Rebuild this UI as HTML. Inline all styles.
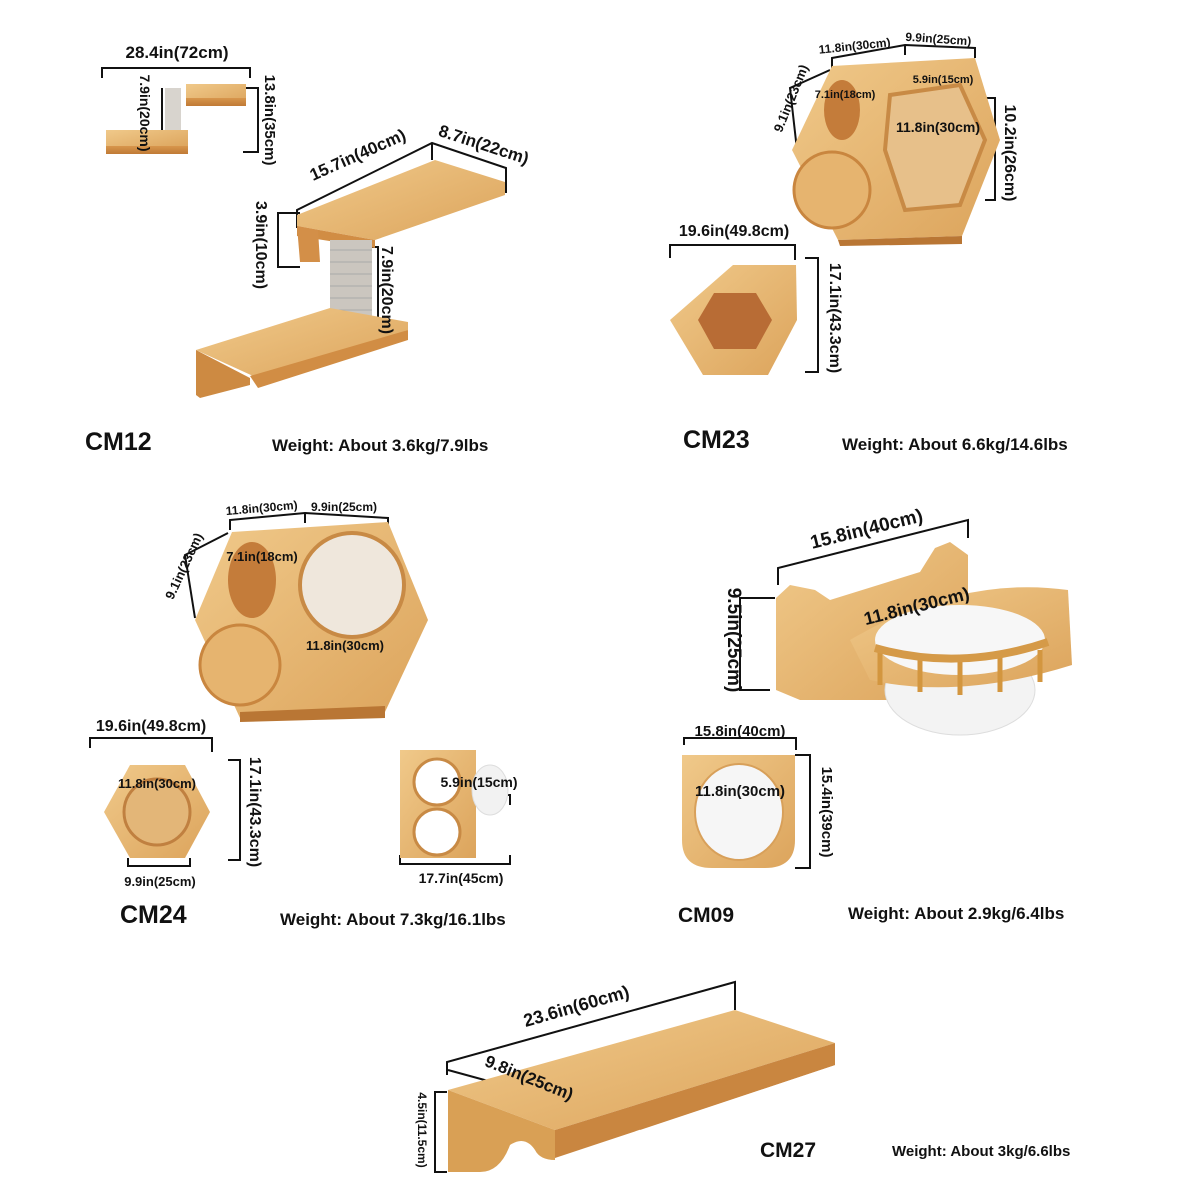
<!DOCTYPE html>
<html><head><meta charset="utf-8"><style>
html,body{margin:0;padding:0;background:#fff}
svg{display:block}
text{font-family:"Liberation Sans",Arial,sans-serif;font-weight:bold;fill:#111}
</style></head><body>
<svg width="1200" height="1200" viewBox="0 0 1200 1200" xmlns="http://www.w3.org/2000/svg">
<defs>
<linearGradient id="w" x1="0" y1="0" x2="1" y2="1"><stop offset="0" stop-color="#f0c98a"/><stop offset="1" stop-color="#dca45c"/></linearGradient>
<linearGradient id="wd" x1="0" y1="0" x2="0" y2="1"><stop offset="0" stop-color="#d7964c"/><stop offset="1" stop-color="#c07a36"/></linearGradient>
</defs>
<g stroke="#111" stroke-width="2" fill="none">
<path d="M102,78 V68 H250 V78"/>
<path d="M243,88 H258 V152 H243"/>
<path d="M162,88 V146"/>
<path d="M297,228 V210 L432,143 L506,168 V193"/>
<path d="M432,143 V160"/>
<path d="M300,213 H278 V267 H300"/>
<path d="M365,247 H378 V323 H340"/>
<path d="M832,68 V58 L905,45 L975,48 V58"/>
<path d="M905,45 V55"/>
<path d="M830,70 L790,88 L797,150"/>
<path d="M985,98 H995 V200 H985"/>
<path d="M893,135 H985 V150"/>
<path d="M670,258 V245 H795 V260"/>
<path d="M805,258 H818 V372 H805"/>
<path d="M230,530 V520 L305,513 L388,518 V528"/>
<path d="M305,513 V523"/>
<path d="M228,533 L185,555 L195,618"/>
<path d="M305,620 H398 V635"/>
<path d="M90,748 V738 H212 V752"/>
<path d="M228,760 H240 V860 H228"/>
<path d="M125,806 V798 H195 V806"/>
<path d="M128,858 V866 H190 V858"/>
<path d="M478,795 H510 V805"/>
<path d="M400,855 V864 H510 V855"/>
<path d="M778,585 V568 L968,520 V538"/>
<path d="M775,598 H740 V690 H770"/>
<path d="M855,640 L1020,600"/>
<path d="M684,745 V738 H796 V750"/>
<path d="M686,798 H795"/>
<path d="M795,755 H810 V868 H795"/>
<path d="M447,1075 V1062 L735,982 V1010"/>
<path d="M448,1070 L565,1102 V1115"/>
<path d="M447,1092 H435 V1172 H447"/>
</g>

<rect x="186" y="84" width="60" height="20" fill="url(#w)"/><rect x="186" y="98" width="60" height="8" fill="url(#wd)"/>
<rect x="165" y="88" width="16" height="42" fill="#d8d4ce"/>
<rect x="106" y="130" width="82" height="18" fill="url(#w)"/><rect x="106" y="146" width="82" height="8" fill="url(#wd)"/>

<polygon points="297,215 435,160 505,182 505,195 375,240 297,226" fill="url(#w)"/>
<polygon points="297,226 375,240 375,248 297,236" fill="#d18d44"/>
<polygon points="297,226 318,230 320,262 300,262" fill="#d38f48"/>
<rect x="330" y="240" width="42" height="80" fill="#cbc6bf"/>
<g stroke="#aaa" stroke-width="1">
<line x1="330" y1="250" x2="372" y2="250"/><line x1="330" y1="262" x2="372" y2="262"/><line x1="330" y1="274" x2="372" y2="274"/><line x1="330" y1="286" x2="372" y2="286"/><line x1="330" y1="298" x2="372" y2="298"/><line x1="330" y1="310" x2="372" y2="310"/></g>
<polygon points="196,350 330,308 408,322 408,330 262,380" fill="url(#w)"/>
<polygon points="250,376 408,330 408,340 258,388" fill="#d18d44"/>
<polygon points="196,350 250,378 250,385 200,398 196,395" fill="#cd8a42"/>

<polygon points="792,150 832,66 975,58 1000,140 962,236 838,240" fill="url(#w)"/>
<polygon points="838,240 962,236 962,244 840,246" fill="#b97634"/>
<ellipse cx="842" cy="110" rx="18" ry="30" fill="#c47c3a"/>
<polygon points="890,95 960,85 985,140 960,205 905,210 885,150" fill="#e7c08a" stroke="#c88a45" stroke-width="4"/>
<circle cx="832" cy="190" r="38" fill="#e6b46f" stroke="#c9863f" stroke-width="3"/>
<polygon points="733,265 796,265 797,320 768,375 703,375 670,320" fill="url(#w)"/>
<polygon points="698,320 714,293 756,293 772,320 756,349 714,349" fill="#b86c35"/>

<polygon points="195,620 232,532 388,522 428,620 385,712 240,718" fill="url(#w)"/>
<polygon points="240,712 385,706 385,718 240,722" fill="#b97634"/>
<ellipse cx="252" cy="580" rx="24" ry="38" fill="#c47c3a"/>
<circle cx="352" cy="585" r="52" fill="#efe7dc" stroke="#c88a45" stroke-width="4"/>
<circle cx="240" cy="665" r="40" fill="#e6b46f" stroke="#c9863f" stroke-width="3"/>
<polygon points="130,765 185,765 210,812 185,858 130,858 104,812" fill="url(#w)"/>
<circle cx="157" cy="812" r="33" fill="#e3b678" stroke="#c08040" stroke-width="3"/>
<rect x="400" y="750" width="76" height="108" fill="url(#w)"/>
<circle cx="437" cy="782" r="23" fill="#fff" stroke="#c88a45" stroke-width="3"/>
<circle cx="437" cy="832" r="23" fill="#fff" stroke="#c88a45" stroke-width="3"/>
<ellipse cx="490" cy="790" rx="18" ry="25" fill="#f2f2f2" stroke="#ddd"/>

<polygon points="776,598 790,585 815,590 830,600 920,572 935,548 950,542 968,555 968,700 800,700 776,690" fill="url(#w)"/>
<ellipse cx="960" cy="690" rx="75" ry="45" fill="#f3f3f3" stroke="#ddd"/>
<path d="M850,640 Q960,575 1068,590 L1072,665 Q960,700 870,680 Z" fill="url(#w)"/>
<ellipse cx="960" cy="640" rx="85" ry="35" fill="#f7f7f7"/>
<g stroke="#d3963f" stroke-width="5"><line x1="880" y1="650" x2="880" y2="685"/><line x1="920" y1="655" x2="920" y2="692"/><line x1="960" y1="658" x2="960" y2="695"/><line x1="1000" y1="655" x2="1000" y2="692"/><line x1="1040" y1="650" x2="1040" y2="682"/></g>
<path d="M875,648 Q960,672 1048,642" stroke="#d59a48" stroke-width="8" fill="none"/>
<path d="M682,755 H795 V840 Q795,868 765,868 H712 Q682,868 682,840 Z" fill="url(#w)"/>
<ellipse cx="739" cy="812" rx="44" ry="48" fill="#f6f6f6" stroke="#d8a05a" stroke-width="2"/>

<polygon points="448,1090 735,1010 835,1043 555,1130" fill="url(#w)"/>
<polygon points="555,1130 835,1043 835,1065 555,1158" fill="#c98640"/>
<path d="M448,1090 L555,1130 L555,1160 Q540,1160 535,1150 Q525,1135 510,1145 Q500,1172 480,1172 L448,1172 Z" fill="#d9a055"/>
<path d="M640,1130 Q650,1112 665,1115 Q678,1118 680,1105 L700,1098 Q710,1080 730,1085 L745,1075 Q760,1060 780,1070 L835,1055 L835,1065 Z" fill="#c98640"/>

<text x="177" y="58" font-size="17" text-anchor="middle">28.4in(72cm)</text>
<text transform="translate(140,113) rotate(90)" font-size="14" text-anchor="middle">7.9in(20cm)</text>
<text transform="translate(265,120) rotate(90)" font-size="15" text-anchor="middle">13.8in(35cm)</text>
<text transform="translate(360,160) rotate(-24)" font-size="17" text-anchor="middle">15.7in(40cm)</text>
<text transform="translate(482,150) rotate(18)" font-size="17" text-anchor="middle">8.7in(22cm)</text>
<text transform="translate(256,245) rotate(90)" font-size="16" text-anchor="middle">3.9in(10cm)</text>
<text transform="translate(382,290) rotate(90)" font-size="16" text-anchor="middle">7.9in(20cm)</text>
<text x="85" y="450" font-size="25">CM12</text>
<text x="272" y="451" font-size="17">Weight: About 3.6kg/7.9lbs</text>

<text transform="translate(855,50) rotate(-6)" font-size="12" text-anchor="middle">11.8in(30cm)</text>
<text transform="translate(938,43) rotate(4)" font-size="12" text-anchor="middle">9.9in(25cm)</text>
<text transform="translate(795,100) rotate(-68)" font-size="13" text-anchor="middle">9.1in(23cm)</text>
<text x="845" y="98" font-size="11" text-anchor="middle">7.1in(18cm)</text>
<text x="943" y="83" font-size="11" text-anchor="middle">5.9in(15cm)</text>
<text x="938" y="132" font-size="14" text-anchor="middle">11.8in(30cm)</text>
<text transform="translate(1005,153) rotate(90)" font-size="16" text-anchor="middle">10.2in(26cm)</text>
<text x="734" y="236" font-size="16" text-anchor="middle">19.6in(49.8cm)</text>
<text transform="translate(830,318) rotate(90)" font-size="16" text-anchor="middle">17.1in(43.3cm)</text>
<text x="683" y="448" font-size="25">CM23</text>
<text x="842" y="450" font-size="17">Weight: About 6.6kg/14.6lbs</text>

<text transform="translate(262,512) rotate(-5)" font-size="12" text-anchor="middle">11.8in(30cm)</text>
<text x="344" y="511" font-size="12" text-anchor="middle">9.9in(25cm)</text>
<text transform="translate(188,568) rotate(-65)" font-size="13" text-anchor="middle">9.1in(23cm)</text>
<text x="262" y="561" font-size="13" text-anchor="middle">7.1in(18cm)</text>
<text x="345" y="650" font-size="13" text-anchor="middle">11.8in(30cm)</text>
<text x="151" y="731" font-size="16" text-anchor="middle">19.6in(49.8cm)</text>
<text transform="translate(250,812) rotate(90)" font-size="16" text-anchor="middle">17.1in(43.3cm)</text>
<text x="157" y="788" font-size="13" text-anchor="middle">11.8in(30cm)</text>
<text x="160" y="886" font-size="13" text-anchor="middle">9.9in(25cm)</text>
<text x="479" y="787" font-size="14" text-anchor="middle">5.9in(15cm)</text>
<text x="461" y="883" font-size="14" text-anchor="middle">17.7in(45cm)</text>
<text x="120" y="923" font-size="25">CM24</text>
<text x="280" y="925" font-size="17">Weight: About 7.3kg/16.1lbs</text>

<text transform="translate(868,535) rotate(-14)" font-size="19" text-anchor="middle">15.8in(40cm)</text>
<text transform="translate(728,640) rotate(90)" font-size="19" text-anchor="middle">9.5in(25cm)</text>
<text transform="translate(918,612) rotate(-14)" font-size="18" text-anchor="middle">11.8in(30cm)</text>
<text x="740" y="736" font-size="15" text-anchor="middle">15.8in(40cm)</text>
<text x="740" y="796" font-size="15" text-anchor="middle">11.8in(30cm)</text>
<text transform="translate(822,812) rotate(90)" font-size="15" text-anchor="middle">15.4in(39cm)</text>
<text x="678" y="922" font-size="21">CM09</text>
<text x="848" y="919" font-size="17">Weight: About 2.9kg/6.4lbs</text>

<text transform="translate(578,1012) rotate(-16)" font-size="18" text-anchor="middle">23.6in(60cm)</text>
<text transform="translate(527,1083) rotate(22)" font-size="17" text-anchor="middle">9.8in(25cm)</text>
<text transform="translate(418,1130) rotate(90)" font-size="12" text-anchor="middle">4.5in(11.5cm)</text>
<text x="760" y="1157" font-size="21">CM27</text>
<text x="892" y="1156" font-size="15">Weight: About 3kg/6.6lbs</text>
</svg>
</body></html>
